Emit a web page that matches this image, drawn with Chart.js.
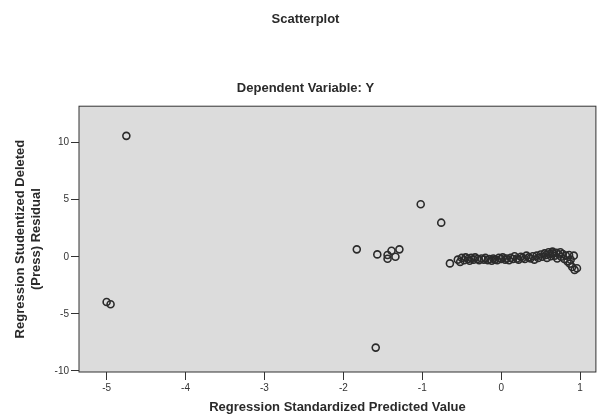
<!DOCTYPE html>
<html>
<head>
<meta charset="utf-8">
<script src="https://cdn.jsdelivr.net/npm/chart.js@4"></script>
<style>
  html, body { margin: 0; padding: 0; background: #fff; }
  #wrap { width: 601px; height: 415px; }
</style>
</head>
<body>
<div id="wrap"><canvas id="chartCanvas"></canvas></div>
<script>
const chartTitle = "Scatterplot";
const chartSubtitle = "Dependent Variable: Y";
const xTitle = "Regression Standardized Predicted Value";
const yTitle = ["Regression Studentized Deleted", "(Press) Residual"];

// standardized predicted values
const predicted = [
    -4.75, -5.00, -4.95, -1.59, -1.02, -0.76, -1.83, -1.57, -1.44, -1.39, -1.29, -1.34, -1.44, -0.65,
    -0.55, -0.52, -0.50, -0.47, -0.45, -0.42, -0.40, -0.38, -0.35, -0.33, -0.30, -0.28, -0.25, -0.22,
    -0.20, -0.17, -0.15, -0.12, -0.10, -0.08, -0.05, -0.03, 0.00, 0.02, 0.05, 0.07, 0.10, 0.12,
    0.15, 0.17, 0.20, 0.22, 0.25, 0.27, 0.30, 0.32, 0.35, 0.37, 0.40, 0.42, 0.45, 0.47,
    0.50, 0.52, 0.55, 0.57, 0.58, 0.60, 0.62, 0.63, 0.65, 0.66, 0.68, 0.70, 0.71, 0.73,
    0.75, 0.76, 0.78, 0.80, 0.82, 0.84, 0.86, 0.87, 0.88, 0.90, 0.92, 0.93, 0.96
];

// studentized deleted residuals
const residuals = [
    10.6, -3.96, -4.16, -7.96, 4.6, 2.99, 0.65, 0.21, -0.17, 0.53, 0.65, 0.0, 0.15, -0.58,
    -0.25, -0.45, -0.10, -0.30, -0.05, -0.20, -0.35, -0.10, -0.25, -0.05, -0.20, -0.30, -0.15, -0.25,
    -0.10, -0.30, -0.20, -0.35, -0.15, -0.25, -0.30, -0.10, -0.20, -0.05, -0.25, -0.15, -0.30, -0.10,
    -0.20, 0.05, -0.15, -0.25, 0.00, -0.10, -0.20, 0.10, -0.05, -0.15, 0.05, -0.25, 0.10, -0.10,
    0.20, 0.00, 0.30, 0.15, -0.10, 0.40, 0.25, 0.05, 0.45, 0.30, 0.10, 0.35, -0.15, 0.20,
    0.40, 0.00, 0.25, -0.20, 0.10, -0.40, 0.15, -0.60, -0.25, -0.90, 0.10, -1.15, -1.00
];

const points = predicted.map((x, i) => ({ x: x, y: residuals[i] }));

const plotFrame = {
    id: "plotFrame",
    beforeDatasetsDraw(chart) {
        const { ctx, chartArea: a } = chart;
        ctx.save();
        ctx.fillStyle = "#dcdcdc";
        ctx.fillRect(a.left, a.top, a.right - a.left, a.bottom - a.top);
        ctx.strokeStyle = "#333";
        ctx.lineWidth = 1;
        ctx.strokeRect(a.left, a.top, a.right - a.left, a.bottom - a.top);
        ctx.restore();
    }
};

const fontFamily = "'Liberation Sans', Arial, sans-serif";

new Chart(document.getElementById("chartCanvas"), {
    type: "scatter",
    data: {
        datasets: [{
            data: points,
            pointStyle: "circle",
            pointRadius: 3.5,
            pointBorderWidth: 1.6,
            borderColor: "#2b2b2b",
            backgroundColor: "rgba(0,0,0,0)",
            pointHoverRadius: 3.5
        }]
    },
    options: {
        responsive: true,
        maintainAspectRatio: false,
        animation: false,
        layout: { padding: { left: 13, right: 3, top: 0, bottom: 0 } },
        plugins: {
            legend: { display: false },
            tooltip: { enabled: false },
            title: {
                display: true,
                text: chartTitle,
                color: "#2a2a2a",
                font: { family: fontFamily, size: 13, weight: "bold" },
                padding: { top: 12, bottom: 53 }
            },
            subtitle: {
                display: true,
                text: chartSubtitle,
                color: "#2a2a2a",
                font: { family: fontFamily, size: 13, weight: "bold" },
                padding: { top: 0, bottom: 10 }
            }
        },
        scales: {
            x: {
                type: "linear",
                min: -5.35,
                max: 1.2,
                afterFit: (scale) => { scale.height = 43; },
                ticks: {
                    stepSize: 1,
                    includeBounds: false,
                    color: "#333",
                    padding: 2,
                    font: { family: fontFamily, size: 10 }
                },
                grid: { drawOnChartArea: false, tickLength: 8, color: "#333" },
                border: { display: false },
                title: {
                    display: true,
                    text: xTitle,
                    color: "#2a2a2a",
                    padding: { top: 2, bottom: 0 },
                    font: { family: fontFamily, size: 13, weight: "bold" }
                }
            },
            y: {
                type: "linear",
                min: -10.1,
                max: 13.2,
                afterFit: (scale) => { scale.width = 66; },
                ticks: {
                    stepSize: 5,
                    includeBounds: false,
                    color: "#333",
                    padding: 2,
                    font: { family: fontFamily, size: 10 }
                },
                grid: { drawOnChartArea: false, tickLength: 8, color: "#333" },
                border: { display: false },
                title: {
                    display: true,
                    text: yTitle,
                    color: "#2a2a2a",
                    padding: { top: 0, bottom: 4 },
                    font: { family: fontFamily, size: 13, weight: "bold" }
                }
            }
        }
    },
    plugins: [plotFrame]
});
</script>
</body>
</html>
